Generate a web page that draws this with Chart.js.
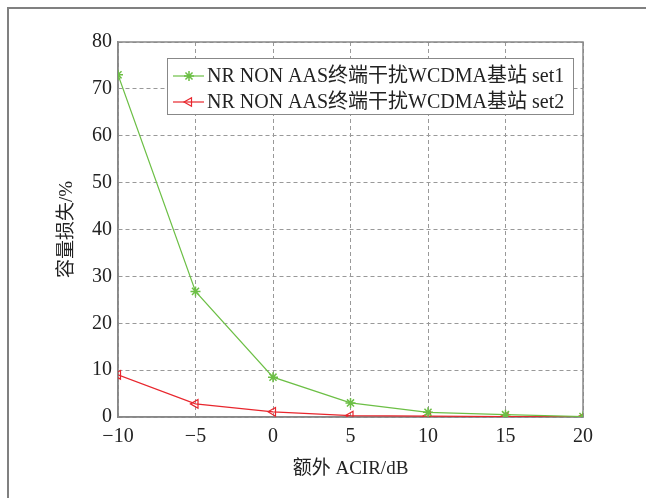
<!DOCTYPE html>
<html>
<head>
<meta charset="utf-8">
<script src="https://cdn.jsdelivr.net/npm/chart.js@4.4.1/dist/chart.umd.min.js"></script>
<style>
    html, body { margin: 0; padding: 0; background: #fff; }
    #wrap { position: relative; width: 646px; height: 498px; }
    #frame { position: absolute; left: 7px; top: 7px; right: 0; bottom: 0; border-top: 2px solid #808080; border-left: 2px solid #808080; }
    canvas { position: absolute; left: 0; top: 0; }
</style>
</head>
<body>
<div id="wrap">
    <div id="frame"></div>
    <canvas id="chart" width="646" height="498"></canvas>
</div>
<script>
const acir = [-10, -5, 0, 5, 10, 15, 20];
const set1 = [73, 26.8, 8.5, 3.0, 1.0, 0.5, 0.1];
const set2 = [9.0, 2.8, 1.1, 0.3, 0.2, 0.1, 0.05];
const seriesLabels = ['NR NON AAS终端干扰WCDMA基站 set1', 'NR NON AAS终端干扰WCDMA基站 set2'];

const serif = '"Liberation Serif", "Noto Sans CJK SC", serif';
const green = '#6cbf45';
const red = '#e8262d';

// legend drawn inside the plot, top right, like the matlab figure
const insideLegend = {
    id: 'insideLegend',
    afterDraw(chart) {
        const { ctx, chartArea } = chart;
        const x0 = 167, y0 = 58, w = chartArea.right - 10 - x0, h = 56;
        ctx.save();
        ctx.fillStyle = '#fff';
        ctx.fillRect(x0, y0, w, h);
        ctx.strokeStyle = '#888';
        ctx.lineWidth = 1;
        ctx.strokeRect(x0 + 0.5, y0 + 0.5, w, h);
        ctx.textBaseline = 'middle';
        chart.data.datasets.forEach((ds, i) => {
            const yy = y0 + 18 + i * 26;
            ctx.strokeStyle = ds.borderColor;
            ctx.lineWidth = 1.2;
            ctx.beginPath();
            ctx.moveTo(x0 + 6, yy);
            ctx.lineTo(x0 + 37, yy);
            ctx.stroke();
            ctx.fillStyle = ds.backgroundColor;
            ctx.lineWidth = ds.pointBorderWidth;
            Chart.helpers.drawPoint(ctx, {
                pointStyle: ds.pointStyle,
                radius: ds.pointRadius,
                rotation: ds.pointRotation || 0,
                borderWidth: ds.pointBorderWidth
            }, x0 + 22, yy);
            ctx.font = '20px ' + serif;
            ctx.fillStyle = '#222';
            ctx.fillText(ds.label, x0 + 40, yy + 1);
        });
        ctx.restore();
    }
};

new Chart(document.getElementById('chart'), {
    type: 'line',
    data: {
        datasets: [
            {
                label: seriesLabels[0],
                data: acir.map((x, i) => ({ x, y: set1[i] })),
                borderColor: green,
                backgroundColor: green,
                borderWidth: 1.2,
                pointStyle: 'star',
                pointRadius: 5,
                pointBorderWidth: 1.5,
                tension: 0
            },
            {
                label: seriesLabels[1],
                data: acir.map((x, i) => ({ x, y: set2[i] })),
                borderColor: red,
                backgroundColor: 'rgba(0,0,0,0)',
                borderWidth: 1.2,
                pointStyle: 'triangle',
                pointRotation: -90,
                pointRadius: 5,
                pointBorderWidth: 1.2,
                tension: 0
            }
        ]
    },
    options: {
        responsive: false,
        animation: false,
        layout: { padding: { left: 52, right: 63, top: 42, bottom: 14 } },
        plugins: { legend: { display: false }, tooltip: { enabled: false } },
        scales: {
            x: {
                type: 'linear',
                min: -10,
                max: 20,
                ticks: {
                    stepSize: 5,
                    color: '#222',
                    font: { family: serif, size: 20 },
                    padding: 8,
                    callback: v => String(v).replace('-', '\u2212')
                },
                grid: { color: '#999', tickLength: 0, drawTicks: false },
                border: { color: '#888', width: 1.5, dash: [4, 3] },
                title: { display: true, text: '额外 ACIR/dB', color: '#222', font: { family: serif, size: 19 }, padding: { top: 6 } },
                afterFit(scale) { scale.height = 67; }
            },
            y: {
                min: 0,
                max: 80,
                ticks: {
                    stepSize: 10,
                    color: '#222',
                    font: { family: serif, size: 20 },
                    padding: 6
                },
                grid: { color: '#999', drawTicks: false },
                border: { color: '#888', width: 1.5, dash: [4, 3] },
                title: { display: true, text: '容量损失/%', color: '#222', font: { family: serif, size: 19 }, padding: { bottom: 4 } },
                afterFit(scale) { scale.width = 66; }
            }
        }
    },
    plugins: [insideLegend, {
        id: 'solidBox',
        beforeDatasetsDraw(chart) {
            const { ctx, chartArea: a } = chart;
            ctx.save();
            ctx.strokeStyle = '#888';
            ctx.lineWidth = 1.5;
            ctx.strokeRect(a.left, a.top, a.right - a.left, a.bottom - a.top);
            ctx.restore();
        }
    }]
});
</script>
</body>
</html>
